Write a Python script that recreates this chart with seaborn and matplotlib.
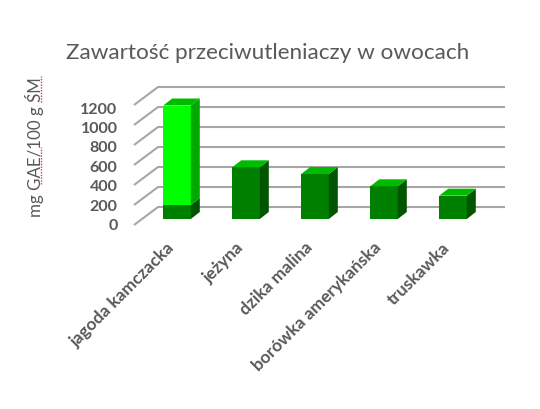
import matplotlib
matplotlib.use("Agg")
import matplotlib.pyplot as plt
import matplotlib.transforms as mtrans
import pandas as pd
import seaborn as sns

# values
owoce = ["jagoda kamczacka", "jeżyna", "dzika malina", "borówka amerykańska", "truskawka"]
dolna = [140, 517, 450, 327, 233]
gorna = [995, 0, 0, 0, 0]
yticks = [0, 200, 400, 600, 800, 1000, 1200]

W, H = 540, 410
GRAY = "#595959"
DEPTH_X = 9 / 69
DEPTH_Y = 70
SZER = 0.4

sns.set_theme(style="white")
plt.rcParams["font.family"] = ["Lato", "DejaVu Sans"]

df = pd.DataFrame({"owoc": owoce, "dolna": dolna, "gorna": gorna})

fig = plt.figure(figsize=(W / 100, H / 100), dpi=100)
# axes box: value -60 sits at pixel y=226, 1200 at y=100, so bars start at y=220
ax = fig.add_axes([142.5 / W, (H - 226) / H, 345 / W, 126 / H])
ax.patch.set_visible(False)
sns.despine(ax=ax, left=True, bottom=True)

sns.barplot(data=df, x="owoc", y="dolna", color="#008000", width=SZER, saturation=1,
            ax=ax, zorder=3, linewidth=0)
sns.barplot(data=df[df.gorna > 0], x="owoc", y="gorna", bottom=df.dolna[0], color="#00ff00",
            width=SZER, saturation=1, ax=ax, zorder=3, linewidth=0)

# grid: back wall plus slanted side wall
for v in yticks:
    ax.plot([-0.623, -0.275, 4.754], [v - 60, v + 120, v + 120], color="#a6a6a6",
            lw=1.5, clip_on=False, zorder=1, solid_capstyle="butt", solid_joinstyle="miter")

# side and top faces of the boxes
for i, (d, g) in enumerate(zip(dolna, gorna)):
    r = i + SZER / 2
    l = i - SZER / 2
    t = d + g
    ax.fill([r, r + DEPTH_X, r + DEPTH_X, r], [0, DEPTH_Y, d + DEPTH_Y, d],
            color="#005500", lw=0, zorder=3, clip_on=False)
    if g > 0:
        ax.fill([r, r + DEPTH_X, r + DEPTH_X, r], [d, d + DEPTH_Y, t + DEPTH_Y, t],
                color="#00a800", lw=0, zorder=3, clip_on=False)
    ax.fill([l, r, r + DEPTH_X, l + DEPTH_X], [t, t, t + DEPTH_Y, t + DEPTH_Y],
            color="#00bb00", lw=0, zorder=3, clip_on=False)

ax.set_xlabel("")
ax.set_ylabel("")
ax.set_yticks([v * 0.975 - 50 for v in yticks], [str(v) for v in yticks])
# set_yticks widens the view, so the limits come after it
ax.set_xlim(-0.5, 4.5)
ax.set_ylim(-60, 1200)
ax.tick_params(axis="y", length=0, pad=18, labelsize=11.5, labelcolor=GRAY)
ax.tick_params(axis="x", length=0, pad=9.7, labelsize=12.5, labelcolor=GRAY)
for t in ax.get_yticklabels():
    t.set_fontweight("bold")
przesun = mtrans.ScaledTranslation(-11 / 100, 0, fig.dpi_scale_trans)
for t in ax.get_xticklabels():
    t.set_fontweight("bold")
    t.set_rotation(45)
    t.set_ha("right")
    t.set_rotation_mode("anchor")
    t.set_transform(t.get_transform() + przesun)

fig.text(66 / W, 1 - 53 / H, "Zawartość przeciwutleniaczy w owocach", fontsize=16.2,
         color=GRAY, va="center", ha="left")
fig.text(35 / W, 1 - 147 / H, "mg GAE/100 g ŚM", fontsize=12.2, color=GRAY,
         rotation=90, va="center", ha="center")

# spell-check underlines below GAE and ŚM
for y0, y1 in [(185, 148), (103, 77)]:
    fig.add_artist(plt.Line2D([41 / W, 41 / W], [1 - y0 / H, 1 - y1 / H], color="#d04040",
                              lw=1, ls=(0, (1, 1))))

fig.savefig("out.png", dpi=100)
